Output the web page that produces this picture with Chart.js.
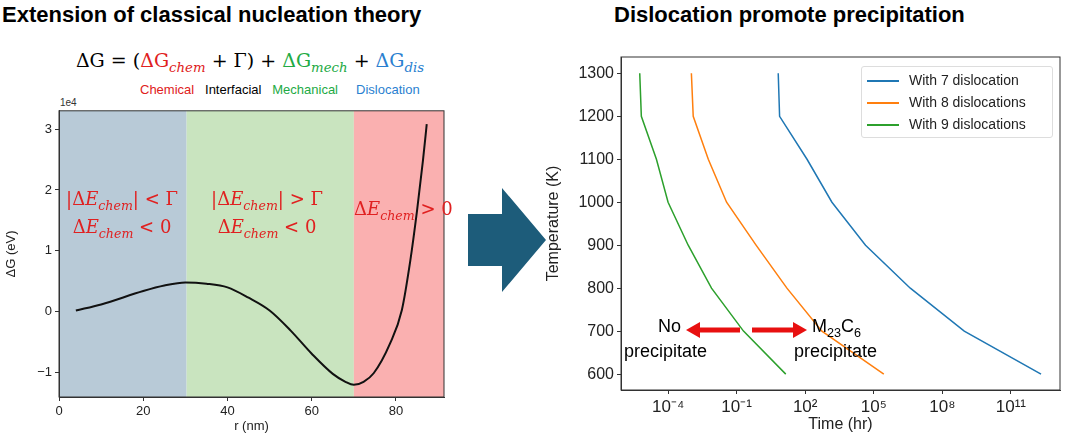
<!DOCTYPE html>
<html><head><meta charset="utf-8">
<script src="https://cdn.jsdelivr.net/npm/chart.js@4"></script>
<style>
body{margin:0;width:1080px;height:438px;background:#fff;position:relative;overflow:hidden;font-family:"Liberation Sans",Arial,sans-serif}
.a{position:absolute;white-space:nowrap}
.t{font-weight:bold;font-size:22px;top:2px}
.m{font-family:"DejaVu Serif",serif;color:#e02020;font-size:18px;text-align:center;line-height:21px}
.m i{font-style:italic}
sub{font-size:70%}
.lg{font-size:14px;color:#222}
.lg span{display:inline-block;width:32px;height:0;border-top:2px solid;vertical-align:middle;margin-right:10px}
</style></head><body>
<div class="a t" style="left:2px">Extension of classical nucleation theory</div>
<div class="a t" style="left:614px">Dislocation promote precipitation</div>
<div class="a" style="left:0;width:500px;top:49px;text-align:center;font-family:'DejaVu Serif',serif;font-size:19px">ΔG = (<span style="color:#e02020">ΔG<sub><i>chem</i></sub></span> + Γ) + <span style="color:#22aa44">ΔG<sub><i>mech</i></sub></span> + <span style="color:#2a7fd0">ΔG<sub><i>dis</i></sub></span></div>
<div class="a" style="left:140px;top:82px;font-size:13px"><span style="color:#e02020">Chemical</span>&nbsp;&nbsp; <span>Interfacial</span>&nbsp;&nbsp; <span style="color:#22aa44">Mechanical</span>&nbsp;&nbsp;&nbsp;&nbsp; <span style="color:#2a7fd0">Dislocation</span></div>
<div class="a" style="left:60px;top:97px;font-size:10px;color:#333">1e4</div>
<div class="a" style="left:0;top:100px;width:460px;height:338px"><canvas id="c1"></canvas></div>
<div class="a" style="left:540px;top:40px;width:540px;height:398px"><canvas id="c2"></canvas></div>
<div class="a m" style="left:62px;width:120px;top:188px">|Δ<i>E<sub>chem</sub></i>| &lt; Γ<br>Δ<i>E<sub>chem</sub></i> &lt; 0</div>
<div class="a m" style="left:207px;width:120px;top:188px">|Δ<i>E<sub>chem</sub></i>| &gt; Γ<br>Δ<i>E<sub>chem</sub></i> &lt; 0</div>
<div class="a m" style="left:354px;top:198px">Δ<i>E<sub>chem</sub></i> &gt; 0</div>
<svg class="a" style="left:0;top:0" width="1080" height="438">
<polygon points="468,214 502,214 502,188 546,240 502,292 502,266 468,266" fill="#1d5c7a"/>
<line x1="740" y1="330" x2="697" y2="330" stroke="#e81010" stroke-width="5"/>
<polygon points="686,330 700,322 700,338" fill="#e81010"/>
<line x1="752" y1="330" x2="796" y2="330" stroke="#e81010" stroke-width="5"/>
<polygon points="807,330 793,322 793,338" fill="#e81010"/>
</svg>
<div class="a" style="left:658px;top:316px;font-size:18px">No</div>
<div class="a" style="left:624px;top:341px;font-size:18px">precipitate</div>
<div class="a" style="left:812px;top:316px;font-size:18px">M<sub>23</sub>C<sub>6</sub></div>
<div class="a" style="left:794px;top:341px;font-size:18px">precipitate</div>
<div class="a" style="left:861px;top:66px;width:190px;height:70px;border:1px solid #ddd;border-radius:3px;background:rgba(255,255,255,.85)"></div>
<div class="a lg" style="left:867px;top:69px;line-height:22px">
<div><span style="border-color:#1f77b4"></span>With 7 dislocation</div>
<div><span style="border-color:#ff7f0e"></span>With 8 dislocations</div>
<div><span style="border-color:#2ca02c"></span>With 9 dislocations</div></div>
<script>
// Left chart data
const rNm=[4,10,20,25,30,35,40,45,50,55,60,65,68,70,72.3,74.7,78.6,81.4,83.4,85.0,86.4,87.3];
const dG=[0.02,0.12,0.34,0.43,0.48,0.46,0.40,0.23,0.02,-0.31,-0.69,-1.02,-1.15,-1.20,-1.15,-1.01,-0.52,0.03,0.84,1.66,2.48,3.08];
const bands=[[0,30.3,'rgb(184,202,215)'],[30.3,70,'rgb(201,228,191)'],[70,91.4,'rgb(250,176,176)']];
const leftTicksX=[0,20,40,60,80], leftTicksY=[-1,0,1,2,3];
// Right chart data (temperature K, log10 of time in hr)
const tempK=[1300,1200,1100,1000,900,800,700,600];
const log7=[0.82,0.88,2.08,3.17,4.64,6.6,8.96,12.32];
const log8=[-2.98,-2.90,-2.24,-1.44,-0.15,1.2,2.73,5.44];
const log9=[-5.24,-5.17,-4.51,-4.0,-3.12,-2.1,-0.7,1.15];
const timeExps=[-4,-1,2,5,8,11];
const tempTicks=[600,700,800,900,1000,1100,1200,1300];
const sup={'-':'⁻','0':'⁰','1':'¹','2':'²','3':'³','4':'⁴','5':'⁵','6':'⁶','7':'⁷','8':'⁸','9':'⁹'};
const fnt={family:'"Liberation Sans",Arial,sans-serif'};
Chart.defaults.color='#222';
const frame={id:'frame',beforeDraw(c){const o=c.options.plugins.bands;if(!o)return;const x=c.scales.x,a=c.chartArea,g=c.ctx;o.forEach(b=>{g.fillStyle=b[2];const l=x.getPixelForValue(b[0]),r=x.getPixelForValue(b[1]);g.fillRect(l,a.top,r-l,a.bottom-a.top);});},
afterDraw(c){const a=c.chartArea,g=c.ctx;g.save();g.strokeStyle='#333';g.lineWidth=1;g.strokeRect(a.left,a.top,a.right-a.left,a.bottom-a.top);g.restore();}};
function ax(){return {grid:{drawOnChartArea:false,tickLength:4,color:'#333'},border:{color:'#333'}};}
new Chart(document.getElementById('c1'),{type:'line',
data:{datasets:[{data:rNm.map((r,i)=>({x:r,y:dG[i]})),borderColor:'#111',borderWidth:2,pointRadius:0,cubicInterpolationMode:'monotone'}]},
options:{responsive:true,maintainAspectRatio:false,animation:false,layout:{padding:{top:10,right:16}},
plugins:{legend:{display:false},tooltip:{enabled:false},bands:bands},
scales:{x:{type:'linear',min:0,max:91.4,...ax(),afterBuildTicks:s=>{s.ticks=leftTicksX.map(v=>({value:v}))},ticks:{font:{...fnt,size:13},maxRotation:0},title:{display:true,text:'r (nm)',font:{...fnt,size:13},padding:{top:0}},afterFit:s=>{s.height=41}},
y:{type:'linear',min:-1.4,max:3.3,...ax(),afterBuildTicks:s=>{s.ticks=leftTicksY.map(v=>({value:v}))},ticks:{font:{...fnt,size:13},callback:v=>String(v).replace('-','−')},title:{display:true,text:'ΔG (eV)',font:{...fnt,size:13}},afterFit:s=>{s.width=59}}}},
plugins:[frame]});
const mk=(l,c)=>({data:l.map((e,i)=>({x:Math.pow(10,e),y:tempK[i]})),borderColor:c,borderWidth:1.5,pointRadius:0,tension:0});
new Chart(document.getElementById('c2'),{type:'line',
data:{datasets:[mk(log7,'#1f77b4'),mk(log8,'#ff7f0e'),mk(log9,'#2ca02c')]},
options:{responsive:true,maintainAspectRatio:false,animation:false,layout:{padding:{top:17,right:20}},
plugins:{legend:{display:false},tooltip:{enabled:false}},
scales:{x:{type:'logarithmic',min:Math.pow(10,-6.06),max:Math.pow(10,13.15),...ax(),afterBuildTicks:s=>{s.ticks=timeExps.map(e=>({value:Math.pow(10,e)}))},ticks:{font:{...fnt,size:17},maxRotation:0,autoSkip:false,callback:function(v,i){return '10'+String(timeExps[i]).split('').map(ch=>sup[ch]).join('')}},title:{display:true,text:'Time (hr)',font:{...fnt,size:16},padding:{top:0}},afterFit:s=>{s.height=48}},
y:{type:'linear',min:563,max:1338,...ax(),afterBuildTicks:s=>{s.ticks=tempTicks.map(v=>({value:v}))},ticks:{font:{...fnt,size:16},callback:v=>String(v)},title:{display:true,text:'Temperature (K)',font:{...fnt,size:16},padding:{bottom:2}},afterFit:s=>{s.width=81}}}},
plugins:[frame]});
</script></body></html>
